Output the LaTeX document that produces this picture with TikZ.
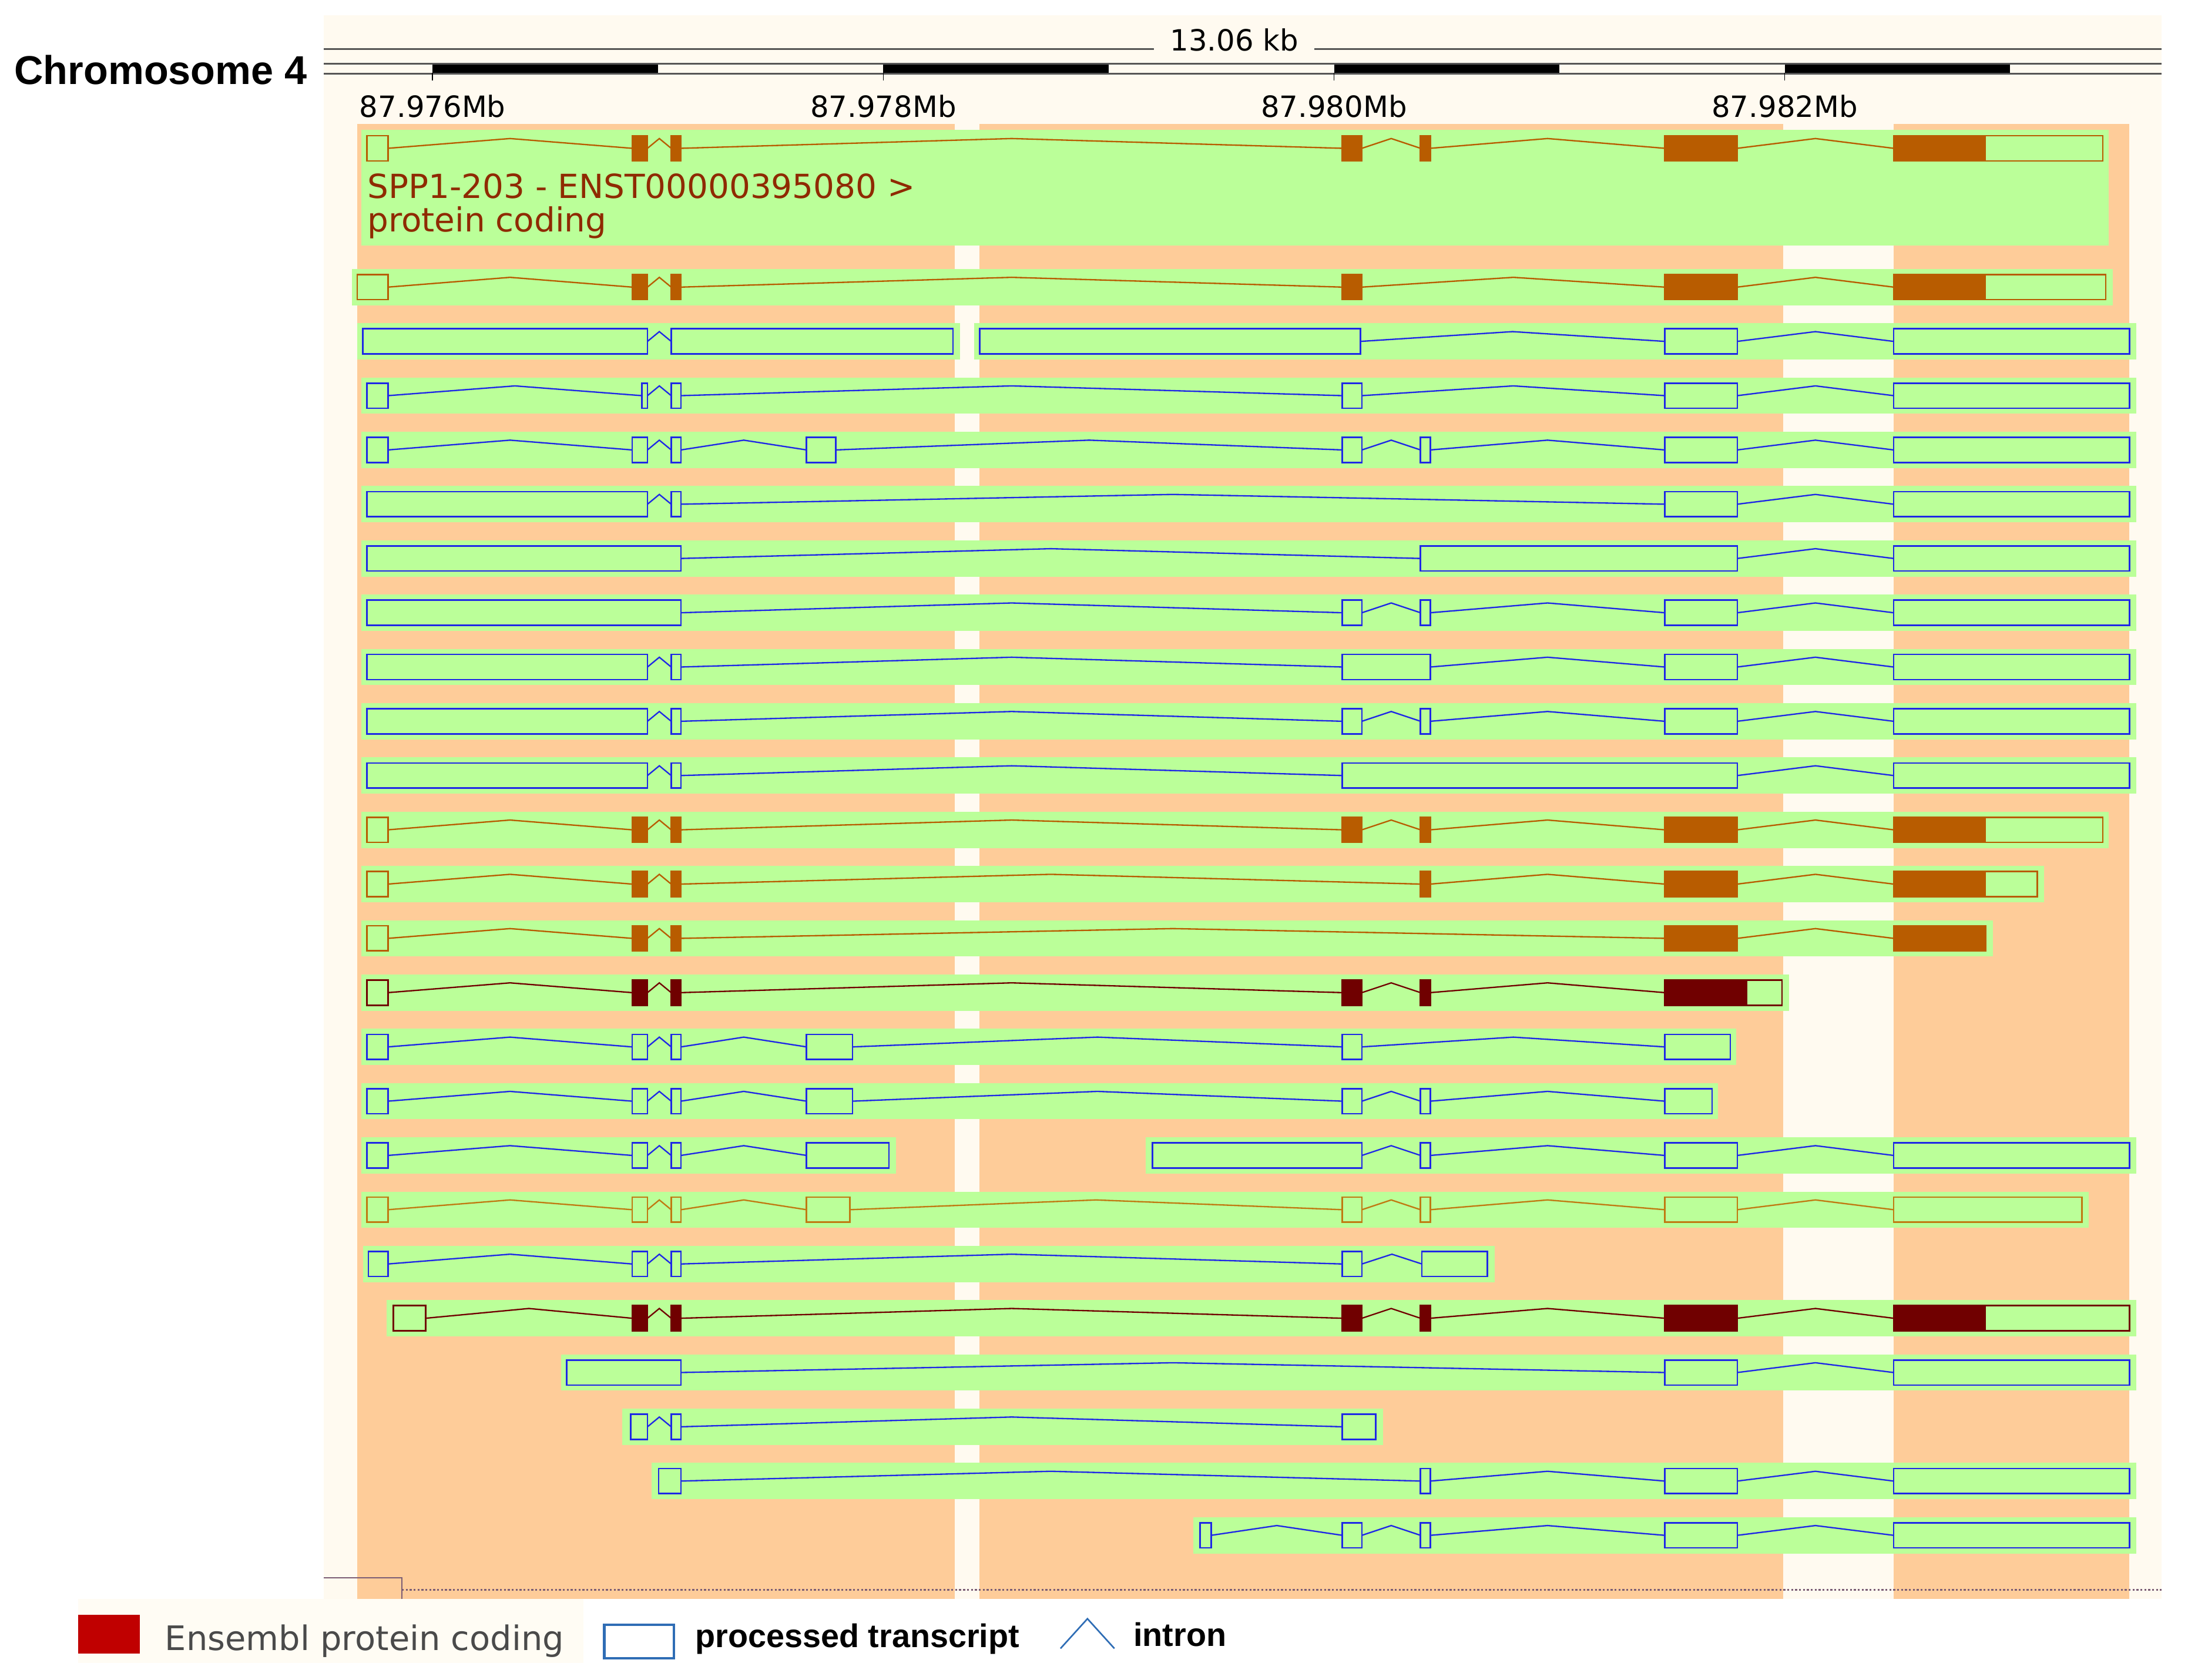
\documentclass[tikz,border=0pt]{standalone}
\usepackage{fontspec}
\setmainfont{DejaVu Sans}
\newfontfamily\keyfont{Liberation Sans}
\usetikzlibrary{calc}

\definecolor{panelcream}{HTML}{FFFAF0}
\definecolor{keycream}{HTML}{FFFCF4}
\definecolor{regionorange}{HTML}{FECC99}
\definecolor{bandgreen}{HTML}{BBFF99}
\definecolor{cdsorange}{HTML}{B85C00}
\definecolor{cdsdark}{HTML}{700000}
\definecolor{ptblue}{HTML}{1E28E6}
\definecolor{utrgold}{HTML}{C07A12}
\definecolor{labelbrown}{HTML}{8F2A00}
\definecolor{keyred}{HTML}{C00000}
\definecolor{keyblue}{HTML}{2F6DB5}
\definecolor{keygrey}{HTML}{4A4A4A}
\definecolor{scalegrey}{HTML}{555555}
\definecolor{trackline}{HTML}{7A5C74}

\tikzset{
  genome/.style={
    x=0.025cm, y=-0.025cm,
    exon/.style={rectangle, minimum height=0.45cm, inner sep=0pt, outer sep=0pt, line width=0.8pt},
    intron/.style={line width=0.7pt, line join=miter},
    band/.style={fill=bandgreen},
    tick/.style={font=\fontsize{14.9}{16}\selectfont, inner sep=0pt, anchor=base},
  }
}

\newcommand{\transcript}[5]{%
  \foreach \ba/\bb in {#4} {
    \fill[band] (\ba,#2-13) rectangle (\bb,#2+13);
  }
  \foreach \ea/\eb/\ec [count=\ei] in {#5} {
    \node[exon, draw=#3, minimum width={(\eb-\ea)*0.025cm}] (#1e\ei) at ({(\ea+\eb)/2},#2) {};
    \ifnum\ec>0 \fill[#3] (#1e\ei.north west) rectangle (\ec,#2+9); \fi
    \ifnum\ei>1
      \pgfmathtruncatemacro{\ej}{\ei-1}
      \draw[intron, #3] (#1e\ej.east) -- ($(#1e\ej.east)!.5!(#1e\ei.west)+(0,-7)$) -- (#1e\ei.west);
    \fi
  }
}

\begin{document}
\begin{tikzpicture}[genome]
    \tikzstyle{labeltext}=[anchor=base west, inner sep=0pt, text=labelbrown, font=\fontsize{16.9}{18}\selectfont]
    \tikzstyle{keytext}=[anchor=base west, inner sep=0pt, font=\keyfont\bfseries\fontsize{16.7}{18}\selectfont]
    \useasboundingbox (0,0) rectangle (1568,1204);

    \fill[panelcream] (232,11) rectangle (1549,1146);
    \fill[regionorange] (256,89) rectangle (684,1146);
    \fill[regionorange] (702,89) rectangle (1278,1146);
    \fill[regionorange] (1357,89) rectangle (1526,1146);

    \node[anchor=base west, inner sep=0pt, font=\keyfont\bfseries\fontsize{20.5}{22}\selectfont] (chrom) at (10,60.4) {Chromosome 4};

    \node[anchor=base, inner xsep=8pt, inner ysep=0pt, font=\fontsize{14.9}{16}\selectfont] (kb) at (884.5,36.5) {13.06 kb};
    \coordinate (scaleL) at (232,35);
    \coordinate (scaleR) at (1549,35);
    \draw[scalegrey, line width=0.9pt] (scaleL) -- (scaleL -| kb.west) (kb.east |- scaleR) -- (scaleR);
    \draw[scalegrey, line width=0.9pt] (232,45.6) -- (1549,45.6) (232,52.7) -- (1549,52.7);
    \foreach \bx/\lab [count=\ti] in {310/87.976,633/87.978,956/87.980,1279/87.982} {
        \fill[black] (\bx,46.2) rectangle (\bx+161.6,52.1);
        \draw[black, line width=0.5pt] (\bx,52) -- (\bx,57.6);
        \node[tick] (tick\ti) at (\bx,84) {\lab Mb};
    }

    \fill[band] (259,93) rectangle (1511,176);
    \node[labeltext] (lbl1) at (263,142) {SPP1-203 - ENST00000395080 >};
    \node[labeltext] (lbl2) at (263,166) {protein coding};

    \transcript{r1}{106.3}{cdsorange}{259/1511}{263/278/0,453/464/464,481/488/488,962/976/976,1018/1025/1025,1193/1245/1245,1357/1507/1423}
    \transcript{r2}{205.8}{cdsorange}{252/1514}{256/278/0,453/464/464,481/488/488,962/976/976,1193/1245/1245,1357/1509/1423}
    \transcript{r3a}{244.7}{ptblue}{256/688}{260/464/0,481/683/0}
    \transcript{r3b}{244.7}{ptblue}{698/1531}{702/975/0,1193/1245/0,1357/1526/0}
    \transcript{r4}{283.6}{ptblue}{259/1531}{263/278/0,460/464/0,481/488/0,962/976/0,1193/1245/0,1357/1526/0}
    \transcript{r5}{322.5}{ptblue}{259/1531}{263/278/0,453/464/0,481/488/0,578/599/0,962/976/0,1018/1025/0,1193/1245/0,1357/1526/0}
    \transcript{r6}{361.4}{ptblue}{259/1531}{263/464/0,481/488/0,1193/1245/0,1357/1526/0}
    \transcript{r7}{400.3}{ptblue}{259/1531}{263/488/0,1018/1245/0,1357/1526/0}
    \transcript{r8}{439.2}{ptblue}{259/1531}{263/488/0,962/976/0,1018/1025/0,1193/1245/0,1357/1526/0}
    \transcript{r9}{478.1}{ptblue}{259/1531}{263/464/0,481/488/0,962/1025/0,1193/1245/0,1357/1526/0}
    \transcript{r10}{517.0}{ptblue}{259/1531}{263/464/0,481/488/0,962/976/0,1018/1025/0,1193/1245/0,1357/1526/0}
    \transcript{r11}{555.9}{ptblue}{259/1531}{263/464/0,481/488/0,962/1245/0,1357/1526/0}
    \transcript{r12}{594.8}{cdsorange}{259/1511}{263/278/0,453/464/464,481/488/488,962/976/976,1018/1025/1025,1193/1245/1245,1357/1507/1423}
    \transcript{r13}{633.7}{cdsorange}{259/1465}{263/278/0,453/464/464,481/488/488,1018/1025/1025,1193/1245/1245,1357/1460/1423}
    \transcript{r14}{672.6}{cdsorange}{259/1428}{263/278/0,453/464/464,481/488/488,1193/1245/1245,1357/1423/1423}
    \transcript{r15}{711.5}{cdsdark}{259/1282}{263/278/0,453/464/464,481/488/488,962/976/976,1018/1025/1025,1193/1277/1252}
    \transcript{r16}{750.4}{ptblue}{259/1244}{263/278/0,453/464/0,481/488/0,578/611/0,962/976/0,1193/1240/0}
    \transcript{r17}{789.3}{ptblue}{259/1231}{263/278/0,453/464/0,481/488/0,578/611/0,962/976/0,1018/1025/0,1193/1227/0}
    \transcript{r18a}{828.2}{ptblue}{259/642}{263/278/0,453/464/0,481/488/0,578/637/0}
    \transcript{r18b}{828.2}{ptblue}{821/1531}{826/976/0,1018/1025/0,1193/1245/0,1357/1526/0}
    \transcript{r19}{867.1}{utrgold}{259/1497}{263/278/0,453/464/0,481/488/0,578/609/0,962/976/0,1018/1025/0,1193/1245/0,1357/1492/0}
    \transcript{r20}{906.0}{ptblue}{260/1071}{264/278/0,453/464/0,481/488/0,962/976/0,1019/1066/0}
    \transcript{r21}{944.9}{cdsdark}{277/1531}{282/305/0,453/464/464,481/488/488,962/976/976,1018/1025/1025,1193/1245/1245,1357/1526/1423}
    \transcript{r22}{983.8}{ptblue}{402/1531}{406/488/0,1193/1245/0,1357/1526/0}
    \transcript{r23}{1022.7}{ptblue}{446/991}{452/464/0,481/488/0,962/986/0}
    \transcript{r24}{1061.6}{ptblue}{467/1531}{472/488/0,1018/1025/0,1193/1245/0,1357/1526/0}
    \transcript{r25}{1100.5}{ptblue}{855/1531}{860/868/0,962/976/0,1018/1025/0,1193/1245/0,1357/1526/0}

    \coordinate (trackA) at (232,1131);
    \coordinate (trackB) at (288,1131);
    \coordinate (trackC) at (288,1146);
    \draw[trackline, line width=0.8pt] (trackA) -- (trackB) -- (trackC);
    \draw[trackline, line width=0.8pt, dash pattern=on 1pt off 1pt] (288,1139.6) -- (1549,1139.6);

    \fill[keycream] (56,1146) rectangle (418,1192);
    \node[fill=keyred, minimum width=1.11cm, minimum height=0.69cm, inner sep=0pt] (keycds) at (78.2,1171.3) {};
    \node[anchor=base west, inner sep=0pt, text=keygrey, font=\fontsize{17.2}{18}\selectfont] (keycoding) at (118,1183) {Ensembl protein coding};
    \node[draw=keyblue, line width=1.3pt, minimum width=1.25cm, minimum height=0.6cm, inner sep=0pt] (keybox) at (458,1176.5) {};
    \node[keytext] (keyproc) at (498,1181) {processed transcript};
    \coordinate (hatL) at (760,1181.6);
    \coordinate (hatR) at (798.6,1181.6);
    \draw[keyblue, line width=0.8pt] (hatL) -- ($(hatL)!.5!(hatR)+(0,-21.3)$) -- (hatR);
    \node[keytext] (keyintron) at (812,1180) {intron};
\end{tikzpicture}
\end{document}
